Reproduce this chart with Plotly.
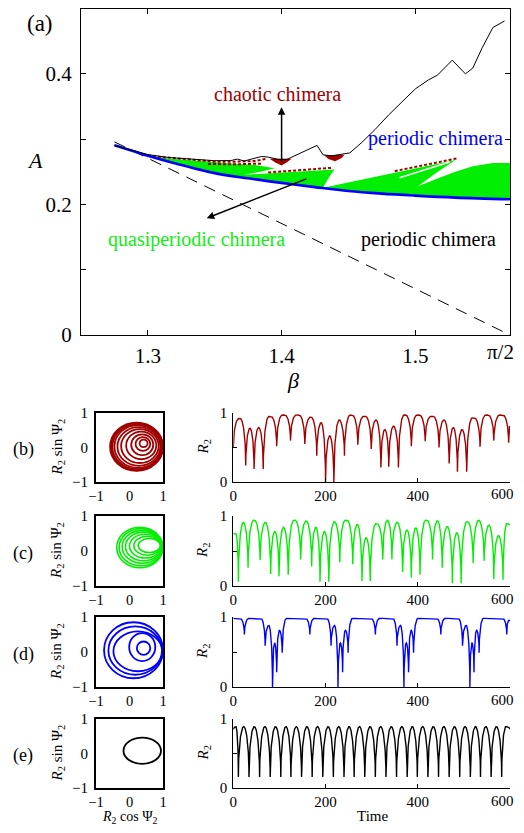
import numpy as np
import plotly.graph_objects as go

PAGE_OFFSET = 8                     # the page draws the figure 8 px in from the window's corner
W, H = 524 - 2 * PAGE_OFFSET, 833 - 2 * PAGE_OFFSET
FONT = "Liberation Serif"
RED, GREEN, BLUE, BLACK = "#a00000", "#00ee00", "#0000ff", "#000000"
HALF_PI = np.pi / 2

# ---------------- panel (a) data ----------------
beta_blue = [1.275, 1.29, 1.30, 1.32, 1.35, 1.375, 1.40, 1.425, 1.45, 1.475, 1.50, 1.53, HALF_PI]
A_blue = [0.2905, 0.281, 0.2745, 0.263, 0.248, 0.240, 0.233, 0.2265, 0.2205, 0.2165, 0.2135, 0.2105, 0.208]

beta_top = [1.275, 1.29, 1.30, 1.315, 1.33, 1.35, 1.362, 1.367, 1.372, 1.385, 1.39, 1.3975, 1.404,
            1.415, 1.4265, 1.431, 1.4375, 1.451, 1.46, 1.47, 1.48, 1.49, 1.50, 1.51, 1.5165,
            1.5276, 1.5375, 1.543, 1.55, 1.558, 1.5667]
A_top = [0.2905, 0.2815, 0.2765, 0.272, 0.2695, 0.267, 0.2672, 0.2695, 0.2665, 0.2735, 0.2725, 0.269, 0.269,
         0.2795, 0.2905, 0.276, 0.2745, 0.279, 0.295, 0.315, 0.337, 0.357, 0.377, 0.391, 0.398,
         0.421, 0.400, 0.409, 0.44, 0.471, 0.481]

beta_dash = [1.275, HALF_PI]
A_dash = [HALF_PI - 1.275, 0.0]

beta_ticks = [1.3, 1.4, 1.5, HALF_PI]
beta_ticktext = ["1.3", "1.4", "1.5", "π/2"]
A_ticks = [0, 0.1, 0.2, 0.3, 0.4]
A_ticktext = ["0", "", "0.2", "", "0.4"]

# quasiperiodic (green) regions, outlines
beta_g1 = [1.285, 1.30, 1.315, 1.33, 1.35, 1.365, 1.38, 1.395, 1.385, 1.372, 1.39, 1.41, 1.425, 1.4395,
           1.435, 1.431, 1.425, 1.40, 1.375, 1.35, 1.32, 1.30, 1.285]
A_g1 = [0.2855, 0.2755, 0.2705, 0.2675, 0.2645, 0.2625, 0.2605, 0.2555, 0.2505, 0.2455, 0.2475, 0.250, 0.252, 0.2535,
        0.240, 0.2255, 0.2265, 0.233, 0.240, 0.248, 0.263, 0.2745, 0.2855]
beta_g2 = [1.431, 1.4437, 1.465, 1.4846, 1.505, 1.53, 1.5157, 1.502, 1.518, 1.53, 1.543, 1.558, HALF_PI,
           HALF_PI, 1.53, 1.50, 1.475, 1.45, 1.431]
A_g2 = [0.2255, 0.2307, 0.240, 0.2484, 0.2575, 0.268, 0.2484, 0.228, 0.2408, 0.250, 0.2586, 0.2636, 0.2636,
        0.208, 0.2105, 0.2135, 0.2165, 0.2205, 0.2255]
beta_gap = [1.4883, 1.5256]
A_gap = [0.2408, 0.2651]

# chaotic (dark red) patches
red_patches = [
    ([1.391, 1.4075, 1.404, 1.40, 1.395, 1.391],
     [0.2700, 0.2700, 0.2645, 0.2595, 0.2645, 0.2700]),
    ([1.432, 1.447, 1.445, 1.44, 1.435, 1.432],
     [0.2750, 0.2760, 0.2710, 0.2660, 0.2695, 0.2750]),
]
red_dashes = [
    ([1.30, 1.33, 1.35, 1.365, 1.38, 1.389], [0.2745, 0.2685, 0.2655, 0.2655, 0.2665, 0.2700]),
    ([1.345, 1.365, 1.385], [0.2620, 0.2615, 0.2625]),
    ([1.39, 1.437], [0.2490, 0.2560]),
    ([1.4846, 1.531], [0.2510, 0.2705]),
]

# ---------------- phase portraits (ellipse loops) ----------------
cx_b = [0.21, 0.22, 0.23, 0.25, 0.28, 0.31, 0.35, 0.38, 0.40, 0.42]
cy_b = [0.02, 0.02, 0.02, 0.03, 0.03, 0.04, 0.06, 0.08, 0.10, 0.12]
rx_b = [0.79, 0.77, 0.74, 0.70, 0.64, 0.56, 0.45, 0.33, 0.22, 0.12]
ry_b = [0.70, 0.68, 0.65, 0.62, 0.56, 0.49, 0.40, 0.30, 0.20, 0.11]

cx_c = [0.31, 0.34, 0.38, 0.42, 0.47, 0.53, 0.59]
cy_c = [0.10, 0.11, 0.12, 0.13, 0.14, 0.15, 0.155]
rx_c = [0.69, 0.65, 0.60, 0.54, 0.47, 0.40, 0.33]
ry_c = [0.58, 0.53, 0.47, 0.41, 0.34, 0.27, 0.20]

cx_d = [0.12, 0.17, 0.25, 0.38, 0.42]
cy_d = [0.05, 0.04, 0.02, 0.14, 0.11]
rx_d = [0.88, 0.80, 0.73, 0.39, 0.20]
ry_d = [0.80, 0.69, 0.57, 0.40, 0.19]

cx_e = [0.38]
cy_e = [0.08]
rx_e = [0.56]
ry_e = [0.38]

# ---------------- time series: dip times, dip depths, arch heights ----------------
time_ticks = [0, 200, 400, 600]
r0_b, rend_b = 0.50, 0.80
dips_t_b = [27, 45, 65, 94, 124, 155, 181, 200, 218, 241, 270, 299, 320, 337, 358, 386, 416, 446, 468, 486, 506, 535, 565, 597]
dips_r_b = [0.24, 0.19, 0.19, 0.52, 0.60, 0.55, 0.38, 0.0, 0.0, 0.38, 0.54, 0.48, 0.21, 0.22, 0.21, 0.52, 0.59, 0.50, 0.27, 0.15, 0.15, 0.51, 0.60, 0.57]
peaks_b = [0.92, 0.78, 0.79, 0.95, 0.97, 0.97, 0.94, 0.86, 0.67, 0.90, 0.97, 0.95, 0.90, 0.76, 0.81, 0.97, 0.97, 0.95, 0.90, 0.79, 0.76, 0.93, 0.97, 0.97, 0.80]

r0_c, rend_c = 0.75, 0.87
dips_t_c = [11, 32, 58, 81, 99, 119, 146, 170, 188, 207, 231, 259, 279, 297, 324, 344, 367, 386, 405, 432, 453, 475, 494, 520, 544, 565, 585]
dips_r_c = [0.06, 0.26, 0.37, 0.17, 0.14, 0.16, 0.38, 0.28, 0.06, 0.06, 0.34, 0.31, 0.07, 0.07, 0.38, 0.38, 0.20, 0.12, 0.16, 0.38, 0.26, 0.04, 0.04, 0.33, 0.36, 0.10, 0.09]
peaks_c = [0.75, 0.91, 0.94, 0.91, 0.78, 0.84, 0.94, 0.93, 0.84, 0.78, 0.92, 0.94, 0.88, 0.69, 0.89, 0.94, 0.91, 0.80, 0.83, 0.94, 0.93, 0.85, 0.76, 0.92, 0.94, 0.87, 0.72, 0.89]

r0_d, rend_d = 0.99, 0.95
dips_t_d = [24, 69, 85, 94, 106, 166, 212, 227, 237, 249, 308, 355, 370, 380, 391, 450, 497, 513, 522, 533, 593]
dips_r_d = [0.75, 0.59, 0.0, 0.21, 0.49, 0.75, 0.59, 0.0, 0.21, 0.49, 0.75, 0.59, 0.0, 0.21, 0.49, 0.75, 0.59, 0.0, 0.21, 0.49, 0.75]
peaks_d = [0.98, 0.98, 0.88, 0.63, 0.81, 0.98, 0.98, 0.88, 0.63, 0.81, 0.98, 0.98, 0.88, 0.63, 0.81, 0.98, 0.98, 0.88, 0.63, 0.81, 0.98, 0.95]

r0_e, rend_e = 0.85, 0.85
dips_t_e = [11, 34, 57, 80, 103, 125, 148, 171, 194, 217, 240, 262, 285, 308, 331, 354, 377, 399, 422, 445, 468, 491, 514, 536, 559, 582]
dips_r_e = [0.16, 0.16, 0.16, 0.16, 0.16, 0.16, 0.16, 0.16, 0.16, 0.16, 0.16, 0.16, 0.16,
            0.16, 0.16, 0.16, 0.16, 0.16, 0.16, 0.16, 0.16, 0.16, 0.16, 0.16, 0.16, 0.16]
peaks_e = [0.89] * 27

T_END = 600


def arch_curve(r0, dips_t, dips_r, peaks, r_end, tau):
    """Render arches between the read dips, each rising to its read height."""
    kt = [0] + list(dips_t) + [T_END]
    kr = [r0] + list(dips_r) + [r_end]
    ts, rs = [], []
    for k in range(len(kt) - 1):
        a, b = kt[k], kt[k + 1]
        ma, mb, p = kr[k], kr[k + 1], peaks[k]
        w = b - a
        tl = min(w / 2.0, tau)
        n = max(int(w / 0.2), 6)
        t = a + w * np.arange(n) / n
        u1 = np.clip((t - a) / tl, 0, 1)
        u2 = np.clip((b - t) / tl, 0, 1)
        rl = ma + (p - ma) * np.sqrt(1 - (1 - u1) ** 2)
        rr = mb + (p - mb) * np.sqrt(1 - (1 - u2) ** 2)
        ts.extend(t.tolist())
        rs.extend(np.minimum(rl, rr).tolist())
    ts.append(kt[-1])
    rs.append(kr[-1])
    return ts, rs


fig = go.Figure()

# ---- panel (a) ----
fig.add_trace(go.Scatter(x=beta_g1, y=A_g1, fill="toself", fillcolor=GREEN, mode="lines",
                         line=dict(width=0, color=GREEN), xaxis="x", yaxis="y", hoverinfo="skip"))
fig.add_trace(go.Scatter(x=beta_g2, y=A_g2, fill="toself", fillcolor=GREEN, mode="lines",
                         line=dict(width=0, color=GREEN), xaxis="x", yaxis="y", hoverinfo="skip"))
fig.add_trace(go.Scatter(x=beta_gap, y=A_gap, mode="lines", line=dict(width=1.6, color="white"),
                         xaxis="x", yaxis="y", hoverinfo="skip"))
for bx, ay in red_patches:
    fig.add_trace(go.Scatter(x=bx, y=ay, fill="toself", fillcolor=RED, mode="lines",
                             line=dict(width=0, color=RED), xaxis="x", yaxis="y", hoverinfo="skip"))
for bx, ay in red_dashes:
    fig.add_trace(go.Scatter(x=bx, y=ay, mode="lines", line=dict(width=2.0, color=RED, dash="3px,2px"),
                             xaxis="x", yaxis="y", hoverinfo="skip"))
fig.add_trace(go.Scatter(x=beta_dash, y=A_dash, mode="lines",
                         line=dict(width=1, color=BLACK, dash="12px,8px"), xaxis="x", yaxis="y"))
fig.add_trace(go.Scatter(x=beta_blue, y=A_blue, mode="lines", line=dict(width=2.6, color=BLUE, shape="spline"),
                         xaxis="x", yaxis="y"))
fig.add_trace(go.Scatter(x=beta_top, y=A_top, mode="lines", line=dict(width=1, color=BLACK),
                         xaxis="x", yaxis="y"))


# ---- geometry helpers: window pixels -> paper coords ----
def px(x):
    return (x - PAGE_OFFSET) / W


def py(y):
    return 1 - max(y - PAGE_OFFSET, 0.6) / H


rows = [(413, 482), (516, 586), (617, 687), (719, 788)]
phase_dom = [px(96), px(163)]
ts_dom = [px(233.3), px(510)]

axis_common = dict(showgrid=False, zeroline=False, showline=True, linecolor=BLACK, automargin=False,
                   color=BLACK)
tick15 = dict(family=FONT, size=15, color=BLACK)
tick14 = dict(family=FONT, size=14.5, color=BLACK)

# the last tick label of each wide axis is drawn as a right-aligned annotation so it stays inside the page
layout = dict(
    width=W, height=H, margin=dict(l=0, r=0, t=0, b=0, autoexpand=False),
    paper_bgcolor="white", plot_bgcolor="white", showlegend=False,
    font=dict(family=FONT, color=BLACK),
    xaxis=dict(domain=[px(81), px(510)], range=[1.25, HALF_PI], anchor="y", automargin=False,
               tickvals=beta_ticks, ticktext=beta_ticktext[:-1] + [""],
               ticks="inside", ticklen=5, tickcolor=BLACK, mirror="ticks", showline=True, linewidth=1.3,
               linecolor=BLACK, showgrid=False, zeroline=False, ticklabelstandoff=2,
               tickfont=dict(family=FONT, size=21, color=BLACK)),
    yaxis=dict(domain=[py(335), py(6)], range=[0, 0.5], anchor="x", automargin=False,
               tickvals=A_ticks, ticktext=A_ticktext,
               ticks="inside", ticklen=5, tickcolor=BLACK, mirror="ticks", showline=True, linewidth=1.3,
               linecolor=BLACK, showgrid=False, zeroline=False, ticklabelstandoff=4,
               tickfont=dict(family=FONT, size=21, color=BLACK)),
)

portraits = [
    (cx_b, cy_b, rx_b, ry_b, RED, 1.8),
    (cx_c, cy_c, rx_c, ry_c, GREEN, 1.6),
    (cx_d, cy_d, rx_d, ry_d, BLUE, 1.8),
    (cx_e, cy_e, rx_e, ry_e, BLACK, 1.8),
]
series = [
    (r0_b, dips_t_b, dips_r_b, peaks_b, rend_b, RED, 12),
    (r0_c, dips_t_c, dips_r_c, peaks_c, rend_c, GREEN, 12),
    (r0_d, dips_t_d, dips_r_d, peaks_d, rend_d, BLUE, 9),
    (r0_e, dips_t_e, dips_r_e, peaks_e, rend_e, BLACK, 12),
]


def label(text, x, y, size, color=BLACK, angle=0, ref="paper", xanchor="center"):
    return dict(text=text, x=x, y=y, xref=ref, yref=ref if ref == "paper" else "y",
                xanchor=xanchor, yanchor="middle", showarrow=False, textangle=angle,
                font=dict(family=FONT, size=size, color=color))


shapes = []
annotations = []
for i, (top, bot) in enumerate(rows):
    pa, ta = i + 2, i + 6
    ydom = [py(bot), py(top)]
    layout[f"xaxis{pa}"] = dict(domain=phase_dom, range=[-1, 1], anchor=f"y{pa}",
                                tickvals=[-1, 0, 1], ticks="", mirror=True, linewidth=2,
                                ticklabelstandoff=0, tickfont=tick14, **axis_common)
    layout[f"yaxis{pa}"] = dict(domain=ydom, range=[-1, 1], anchor=f"x{pa}",
                                tickvals=[-1, 0, 1], ticks="", mirror=True, linewidth=2,
                                ticklabelstandoff=3, tickfont=tick15, **axis_common)
    layout[f"xaxis{ta}"] = dict(domain=ts_dom, range=[0, T_END], anchor=f"y{ta}",
                                tickvals=time_ticks, ticktext=[str(v) for v in time_ticks[:-1]] + [""],
                                ticks="inside", ticklen=4, tickcolor=BLACK,
                                linewidth=1.2, tickfont=tick15, **axis_common)
    layout[f"yaxis{ta}"] = dict(domain=ydom, range=[0, 1], anchor=f"x{ta}",
                                tickvals=[0, 0.5, 1], ticktext=["0", "", "1"], ticks="inside", ticklen=4,
                                tickcolor=BLACK, linewidth=1.2, ticklabelstandoff=2, tickfont=tick15,
                                **axis_common)

    cxs, cys, rxs, rys, col, lw = portraits[i]
    fig.add_trace(go.Scatter(x=cxs, y=cys, mode="markers", marker=dict(opacity=0),
                             xaxis=f"x{pa}", yaxis=f"y{pa}", hoverinfo="skip"))
    for cx, cy, rx, ry in zip(cxs, cys, rxs, rys):
        shapes.append(dict(type="circle", xref=f"x{pa}", yref=f"y{pa}",
                           x0=cx - rx, x1=cx + rx, y0=cy - ry, y1=cy + ry,
                           line=dict(color=col, width=lw)))

    r0, dt, dr, pk, re_, col, tau = series[i]
    tt, rr = arch_curve(r0, dt, dr, pk, re_, tau)
    fig.add_trace(go.Scatter(x=tt, y=rr, mode="lines", line=dict(color=col, width=1.4),
                             xaxis=f"x{ta}", yaxis=f"y{ta}", cliponaxis=False, hoverinfo="skip"))

    ymid = (top + bot) / 2
    annotations.append(label("(" + "bcde"[i] + ")", px(23), py(ymid + 2), 18))
    annotations.append(label("<i>R</i><sub>2</sub> sin Ψ<sub>2</sub>", px(57), py(ymid), 15, angle=-90))
    annotations.append(label("<i>R</i><sub>2</sub>", px(203), py(ymid), 15, angle=-90))
    annotations.append(label(str(time_ticks[-1]), px(515.5), py(bot + 12.5), 15, xanchor="right"))

# panel (a) texts
annotations += [
    label(beta_ticktext[-1], px(515.5), py(352), 21, xanchor="right"),
    label("(a)", px(40), py(23), 23),
    label("<i>A</i>", px(35), py(160), 22),
    label("<i>β</i>", px(293), py(380), 22),
    label("chaotic chimera", 1.3972, 0.3688, 20, RED, ref="x"),
    label("periodic chimera", 1.515, 0.3004, 20, BLUE, ref="x"),
    label("quasiperiodic chimera", 1.3366, 0.146, 20, "#11ee11", ref="x"),
    label("periodic chimera", 1.510, 0.147, 20, BLACK, ref="x"),
    dict(text="", x=1.4, y=0.349, ax=1.4, ay=0.263, xref="x", yref="y", axref="x", ayref="y",
         showarrow=True, arrowhead=2, arrowsize=1, arrowwidth=1.5, arrowcolor=BLACK),
    dict(text="", x=1.344, y=0.179, ax=1.4196, ay=0.240, xref="x", yref="y", axref="x", ayref="y",
         showarrow=True, arrowhead=2, arrowsize=1, arrowwidth=1.5, arrowcolor=BLACK),
    label("<i>R</i><sub>2</sub> cos Ψ<sub>2</sub>", px(129), py(817.5), 14),
    label("Time", px(372), py(816), 15),
]

layout["shapes"] = shapes
layout["annotations"] = annotations
fig.update_layout(**layout)
fig.write_html("out.html")
